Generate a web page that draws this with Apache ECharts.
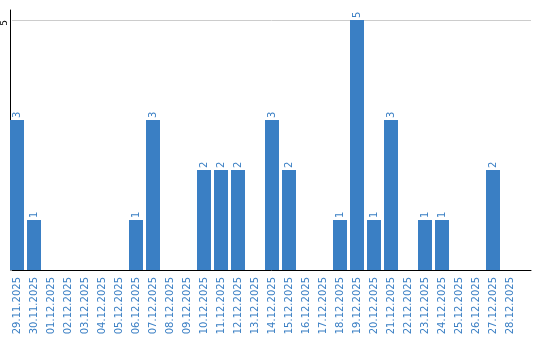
<!DOCTYPE html>
<html>
<head>
<meta charset="utf-8">
<script src="https://cdn.jsdelivr.net/npm/echarts@6/dist/echarts.min.js"></script>
<style>html,body{margin:0;padding:0;background:#fff}#c{width:540px;height:340px}</style>
</head>
<body>
<div id="c"></div>
<script>
const categories = ["29.11.2025","30.11.2025","01.12.2025","02.12.2025","03.12.2025","04.12.2025","05.12.2025","06.12.2025","07.12.2025","08.12.2025","09.12.2025","10.12.2025","11.12.2025","12.12.2025","13.12.2025","14.12.2025","15.12.2025","16.12.2025","17.12.2025","18.12.2025","19.12.2025","20.12.2025","21.12.2025","22.12.2025","23.12.2025","24.12.2025","25.12.2025","26.12.2025","27.12.2025","28.12.2025"];
const values = [3,1,0,0,0,0,0,1,3,0,0,2,2,2,0,3,2,0,0,1,5,1,3,0,1,1,0,0,2,0];
const yTicks = [0, 5];

const blue = '#3a7fc4';
const font = 'DejaVu Sans';
const chart = echarts.init(document.getElementById('c'), null, {renderer: 'canvas'});
chart.setOption({
  animation: false,
  grid: [
    {left: 8.5, top: 20, width: 510, height: 250},
    {left: 10, top: 20, width: 521, height: 250},
    {left: 10, top: 10, width: 521, height: 260}
  ],
  xAxis: [
    {type: 'category', gridIndex: 0, data: categories,
     axisLine: {show: false}, axisTick: {show: false},
     axisLabel: {rotate: 90, interval: 0, color: blue, fontSize: 10, fontFamily: font, margin: 7}},
    {type: 'value', gridIndex: 1, min: 0, max: 1,
     axisLine: {show: true, lineStyle: {color: '#000', width: 1}},
     axisTick: {show: false}, axisLabel: {show: false}, splitLine: {show: false}},
    {type: 'value', gridIndex: 2, min: 0, max: 1, show: false}
  ],
  yAxis: [
    {type: 'value', gridIndex: 0, min: yTicks[0], max: yTicks[yTicks.length-1], show: false},
    {type: 'value', gridIndex: 1, min: yTicks[0], max: yTicks[yTicks.length-1], interval: 5,
     axisLine: {show: false}, axisTick: {show: false},
     splitLine: {show: true, lineStyle: {color: '#cccccc', width: 1}},
     axisLabel: {rotate: 90, color: '#000', fontSize: 9, fontFamily: font, margin: 3, align: 'right',
       formatter: v => v === 0 ? '' : String(v)}},
    {type: 'value', gridIndex: 2, min: 0, max: 1,
     axisLine: {show: true, lineStyle: {color: '#000', width: 1}},
     axisTick: {show: false}, axisLabel: {show: false}, splitLine: {show: false}}
  ],
  series: [{
    type: 'bar', xAxisIndex: 0, yAxisIndex: 0, data: values, barWidth: 14,
    itemStyle: {color: blue},
    label: {show: true, position: 'top', rotate: 90, align: 'left', verticalAlign: 'middle',
      distance: 2, color: blue, fontSize: 10, fontFamily: font,
      formatter: p => p.value === 0 ? '' : String(p.value)}
  }]
});
</script>
</body>
</html>
